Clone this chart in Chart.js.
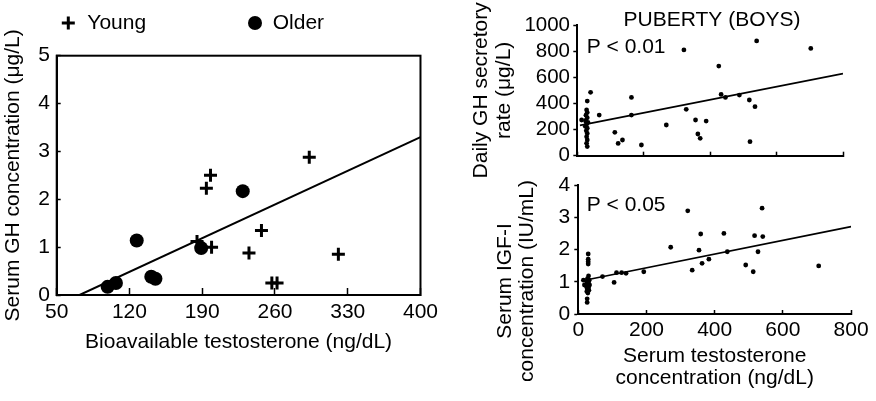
<!DOCTYPE html>
<html>
<head>
<meta charset="utf-8">
<script src="https://cdn.jsdelivr.net/npm/chart.js@4.4.1/dist/chart.umd.min.js"></script>
<style>
  body { margin: 0; background: #fff; width: 876px; height: 401px; position: relative; overflow: hidden; }
  canvas { position: absolute; }
</style>
</head>
<body>
<canvas id="age_chart" width="450" height="401" style="left:0px;top:0px"></canvas>
<canvas id="gh_chart" width="416" height="185" style="left:460px;top:0px"></canvas>
<canvas id="igf_chart" width="416" height="233" style="left:460px;top:168px"></canvas>
<script>
// left panel: serum GH vs bioavailable testosterone in young and older men
var ageTicksX = [50, 120, 190, 260, 330, 400];
var ageTicksY = [0, 1, 2, 3, 4, 5];
var youngT = [185, 194, 198, 199, 235, 247, 257, 262, 293, 321];
var youngGH = [1.12, 2.23, 2.5, 1.0, 0.88, 1.35, 0.25, 0.25, 2.88, 0.85];
var olderT = [99, 107, 127, 141, 145, 189, 229];
var olderGH = [0.17, 0.25, 1.14, 0.38, 0.34, 0.98, 2.17];
var ageFitT = [72, 400];
var ageFitGH = [0, 3.3];

// right panels: puberty (boys)
var pubTicksX = [0, 200, 400, 600, 800];
var ghTicksY = [0, 200, 400, 600, 800, 1000];
var igfTicksY = [0, 1, 2, 3, 4];
var ghT = [13, 40, 30, 28, 30, 26, 30, 25, 32, 28, 24, 30, 27, 30, 28, 30, 28, 30, 26,
           66, 113, 123, 136, 163, 163, 193, 268, 321, 328, 356, 363, 370, 388, 426,
           433, 446, 488, 518, 520, 535, 540, 703];
var ghRate = [273, 485, 418, 350, 330, 310, 290, 270, 255, 240, 225, 210, 190, 170, 145, 120, 95, 70, 260,
              311, 179, 94, 120, 446, 311, 82, 235, 809, 355, 273, 166, 133, 265, 686,
              469, 446, 464, 426, 107, 375, 878, 821];
var ghFitT = [8, 800];
var ghFitRate = [232, 628];
var igfT = [29, 29, 29, 29, 30, 15, 18, 27, 32, 25, 30, 27, 33, 24, 30, 26, 31, 25, 28, 26, 26,
            71, 105, 112, 127, 140, 192, 271, 321, 334, 354, 359, 363, 383, 427, 437,
            491, 513, 517, 527, 539, 541, 705];
var igfConc = [1.86, 1.70, 1.62, 1.55, 1.18, 1.05, 0.90, 1.10, 1.05, 1.00, 0.97, 0.92, 0.90, 0.85, 0.82, 0.78, 0.74, 0.70, 0.65, 0.47, 0.36,
               1.16, 0.98, 1.28, 1.28, 1.26, 1.31, 2.07, 3.20, 1.36, 1.98, 2.48, 1.57, 1.70, 2.50, 1.93,
               1.52, 1.31, 2.43, 1.93, 3.28, 2.40, 1.49];
var igfFitT = [15, 800];
var igfFitConc = [1.04, 2.71];

var FONT = "'Liberation Sans', Arial, Helvetica, sans-serif";
Chart.defaults.font.family = FONT;
Chart.defaults.font.size = 21;
Chart.defaults.color = '#000';

function pairs(xs, ys) {
    return xs.map(function (x, i) { return { x: x, y: ys[i] }; });
}

// force the tick values instead of letting chart.js pick them
function fixedTicks(values) {
    return function (scale) {
        scale.ticks = values.map(function (v) { return { value: v }; });
    };
}

// pin an axis box to a fixed width/height so the plot area lands where we want
function fixedSize(prop, px) {
    return function (scale) { scale[prop] = px; };
}

// plain numbers, no thousands separator
function plain(v) { return String(v); }

function tickGrid(len) {
    // tick marks only, negative length puts them inside the plot
    return { drawOnChartArea: false, drawTicks: true, tickLength: len, tickColor: '#000', tickWidth: 1.5 };
}

var blackBorder = { display: true, color: '#000', width: 2 };

function dots(label, data) {
    return {
        label: label, data: data,
        pointStyle: 'circle', pointRadius: 2.4, pointHoverRadius: 2.4,
        pointBackgroundColor: '#000', pointBorderColor: '#000', pointBorderWidth: 0
    };
}

function fitLine(data, width) {
    return {
        label: 'fit', data: data, showLine: true,
        borderColor: '#000', borderWidth: width, pointRadius: 0, pointHoverRadius: 0
    };
}

// free text: titles, p values, rotated axis captions
function captions(items) {
    return {
        id: 'captions',
        afterDraw: function (chart) {
            var ctx = chart.ctx;
            ctx.save();
            ctx.fillStyle = '#000';
            ctx.font = '21px ' + FONT;
            ctx.textBaseline = 'middle';
            items.forEach(function (it) {
                ctx.save();
                ctx.translate(it.x, it.y);
                if (it.rotate) ctx.rotate(-Math.PI / 2);
                ctx.textAlign = it.align || 'left';
                [].concat(it.text).forEach(function (line, i) {
                    ctx.fillText(line, 0, i * (it.lineHeight || 22));
                });
                ctx.restore();
            });
            ctx.restore();
        }
    };
}

// key for the young / older markers, spread out across the top
function groupKey(entries) {
    return {
        id: 'groupKey',
        afterDraw: function (chart) {
            var ctx = chart.ctx;
            entries.forEach(function (e) {
                var ds = chart.data.datasets[e.index];
                ctx.save();
                ctx.fillStyle = ds.pointBackgroundColor;
                ctx.strokeStyle = ds.pointBorderColor;
                ctx.lineWidth = ds.pointBorderWidth;
                Chart.helpers.drawPoint(ctx, {
                    pointStyle: ds.pointStyle, rotation: 0,
                    radius: ds.pointRadius, borderWidth: ds.pointBorderWidth
                }, e.x, e.y);
                ctx.fillStyle = '#000';
                ctx.font = '21px ' + FONT;
                ctx.textAlign = 'left';
                ctx.textBaseline = 'middle';
                ctx.fillText(ds.label, e.x + e.gap, e.y);
                ctx.restore();
            });
        }
    };
}

var frame = {
    id: 'frame',
    afterDatasetsDraw: function (chart) {
        var a = chart.chartArea, ctx = chart.ctx;
        ctx.save();
        ctx.strokeStyle = '#000';
        ctx.lineWidth = 2;
        ctx.strokeRect(a.left, a.top, a.right - a.left, a.bottom - a.top);
        ctx.restore();
    }
};

var baseOptions = {
    responsive: false,
    animation: false,
    devicePixelRatio: 1,
    events: [],
    plugins: { legend: { display: false }, tooltip: { enabled: false } }
};

new Chart(document.getElementById('age_chart').getContext('2d'), {
    type: 'scatter',
    data: {
        datasets: [
            {
                label: 'Young', data: pairs(youngT, youngGH),
                pointStyle: 'cross', pointRadius: 6.5, pointHoverRadius: 6.5,
                pointBackgroundColor: '#000', pointBorderColor: '#000', pointBorderWidth: 3
            },
            {
                label: 'Older', data: pairs(olderT, olderGH),
                pointStyle: 'circle', pointRadius: 7, pointHoverRadius: 7,
                pointBackgroundColor: '#000', pointBorderColor: '#000', pointBorderWidth: 0
            },
            fitLine(pairs(ageFitT, ageFitGH), 2)
        ]
    },
    options: Object.assign({}, baseOptions, {
        layout: { padding: { left: 0, top: 55.7, right: 23.3, bottom: 0 } },
        scales: {
            x: {
                type: 'linear', min: 50, max: 400,
                afterBuildTicks: fixedTicks(ageTicksX),
                afterFit: fixedSize('height', 106),
                grid: tickGrid(-7),
                border: blackBorder,
                ticks: { padding: 12, autoSkip: false, maxRotation: 0, callback: plain },
                title: { display: true, text: 'Bioavailable testosterone (ng/dL)', padding: { top: 0, bottom: 46 } }
            },
            y: {
                type: 'linear', min: 0, max: 5,
                afterBuildTicks: fixedTicks(ageTicksY),
                afterFit: fixedSize('width', 56.7),
                grid: tickGrid(-4),
                border: blackBorder,
                ticks: { padding: 10.7, autoSkip: false, callback: plain },
                title: { display: true, text: 'Serum GH concentration (\u03bcg/L)', padding: { top: 1, bottom: 0 } }
            }
        }
    }),
    plugins: [frame, groupKey([
        { index: 0, x: 68.3, y: 23, gap: 19 },
        { index: 1, x: 255, y: 23, gap: 17.7 }
    ])]
});

new Chart(document.getElementById('gh_chart').getContext('2d'), {
    type: 'scatter',
    data: {
        datasets: [dots('GH', pairs(ghT, ghRate)), fitLine(pairs(ghFitT, ghFitRate), 1.6)]
    },
    options: Object.assign({}, baseOptions, {
        layout: { padding: { left: 0, top: 25, right: 33, bottom: 0 } },
        scales: {
            x: {
                type: 'linear', min: 0, max: 800,
                afterBuildTicks: fixedTicks(pubTicksX),
                afterFit: fixedSize('height', 29.3),
                grid: tickGrid(-4),
                border: blackBorder,
                ticks: { display: false }
            },
            y: {
                type: 'linear', min: 0, max: 1000,
                afterBuildTicks: fixedTicks(ghTicksY),
                afterFit: fixedSize('width', 117.3),
                grid: tickGrid(4),
                border: blackBorder,
                ticks: { padding: 3.3, autoSkip: false, font: { size: 20.5 }, callback: plain },
                title: {
                    display: true, text: ['Daily GH secretory', 'rate (\u03bcg/L)'],
                    font: { size: 21, lineHeight: 1.07 }, padding: { top: 10, bottom: 0 }
                }
            }
        }
    }),
    plugins: [captions([
        { text: 'PUBERTY (BOYS)', x: 252, y: 20.5, align: 'center' },
        { text: 'P < 0.01', x: 126.7, y: 47 }
    ])]
});

new Chart(document.getElementById('igf_chart').getContext('2d'), {
    type: 'scatter',
    data: {
        datasets: [dots('IGF-I', pairs(igfT, igfConc)), fitLine(pairs(igfFitT, igfFitConc), 1.6)]
    },
    options: Object.assign({}, baseOptions, {
        layout: { padding: { left: 0, top: 17, right: 24, bottom: 0 } },
        scales: {
            x: {
                type: 'linear', min: 0, max: 800,
                afterBuildTicks: fixedTicks(pubTicksX),
                afterFit: fixedSize('height', 87),
                grid: tickGrid(-4),
                border: blackBorder,
                ticks: { padding: 7.4, autoSkip: false, maxRotation: 0, callback: plain },
                title: {
                    display: true, text: ['Serum testosterone', 'concentration (ng/dL)'],
                    font: { size: 21, lineHeight: 1.05 }, padding: { top: 0, bottom: 12 }
                }
            },
            y: {
                type: 'linear', min: 0, max: 4,
                afterBuildTicks: fixedTicks(igfTicksY),
                afterFit: fixedSize('width', 118.3),
                grid: tickGrid(4),
                border: blackBorder,
                ticks: { padding: 4, autoSkip: false, callback: plain }
            }
        }
    }),
    plugins: [captions([
        { text: 'P < 0.05', x: 126.7, y: 37 },
        { text: ['Serum IGF-I', 'concentration (IU/mL)'], x: 45, y: 113, align: 'center', rotate: true, lineHeight: 22 }
    ])]
});
</script>
</body>
</html>
